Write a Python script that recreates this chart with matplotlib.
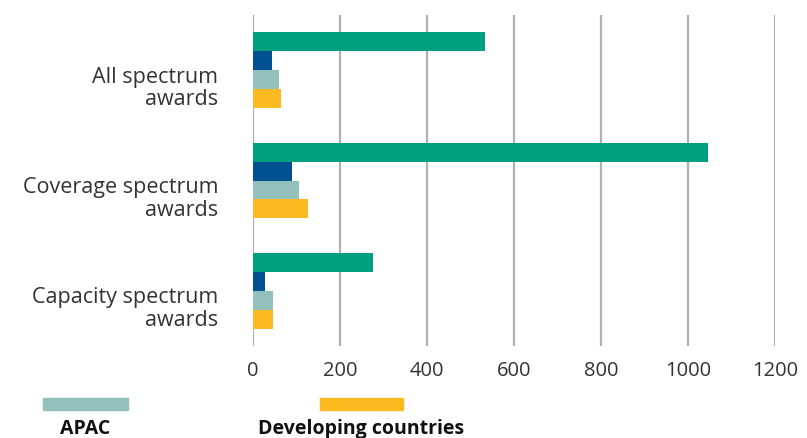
import matplotlib.pyplot as plt
import matplotlib.transforms as mtransforms
from matplotlib.patches import Rectangle
import numpy as np

categories = ['All spectrum\nawards', 'Coverage spectrum\nawards', 'Capacity spectrum\nawards']
series_names = ['Global', 'Developed countries', 'APAC', 'Developing countries']
global_vals = [534, 1047, 277]
developed_vals = [43, 90, 27]
apac_vals = [60, 105, 46]
developing_vals = [64, 126, 45]
x_ticks = [0, 200, 400, 600, 800, 1000, 1200]

colors = ['#00a07f', '#005092', '#93c0bc', '#fbba20']
values = [global_vals, developed_vals, apac_vals, developing_vals]

plt.rcParams['font.family'] = ['Open Sans', 'DejaVu Sans']

fig = plt.figure(figsize=(8.07, 4.38), dpi=100)
ax = fig.add_axes([253 / 807, 1 - 346 / 438, (775 - 253) / 807, (346 - 15) / 438])

y = np.arange(len(categories))
h = 0.172
for i, (vals, col) in enumerate(zip(values, colors)):
    ax.barh(y + (i - 1.5) * h, vals, height=h, color=col, label=series_names[i], zorder=3)

ax.set_xlim(0, 1200)
ax.set_ylim(2.5, -0.5)
ax.set_xticks(x_ticks)
ax.set_xticklabels([str(t) for t in x_ticks], fontsize=14.5, color='#333333')
ax.set_yticks(y)
ax.set_yticklabels(categories, fontsize=15.5, color='#333333', ha='right',
                   multialignment='right', linespacing=1.1)
ax.tick_params(axis='both', length=0)
ax.tick_params(axis='x', pad=11)
ax.tick_params(axis='y', pad=25)
offset = mtransforms.ScaledTranslation(0, -15 / 100, fig.dpi_scale_trans)
for lbl in ax.get_yticklabels():
    lbl.set_transform(lbl.get_transform() + offset)

ax.grid(axis='x', color='#b0b0b0', linewidth=1.6, zorder=0)
for s in ax.spines.values():
    s.set_visible(False)

# legend (only the visible part of the original)
W, H = 807, 438
for x0, x1, col, name, tx in [(43, 128, colors[2], 'APAC', 85),
                              (320, 403, colors[3], 'Developing countries', 361)]:
    fig.add_artist(Rectangle((x0 / W, 1 - 410 / H), (x1 - x0) / W, 12 / H,
                             transform=fig.transFigure, color=col))
    fig.text(tx / W, 1 - 419 / H, name, ha='center', va='top', fontsize=14,
             fontweight='bold', color='#111111')

fig.savefig('out.png', dpi=100)
